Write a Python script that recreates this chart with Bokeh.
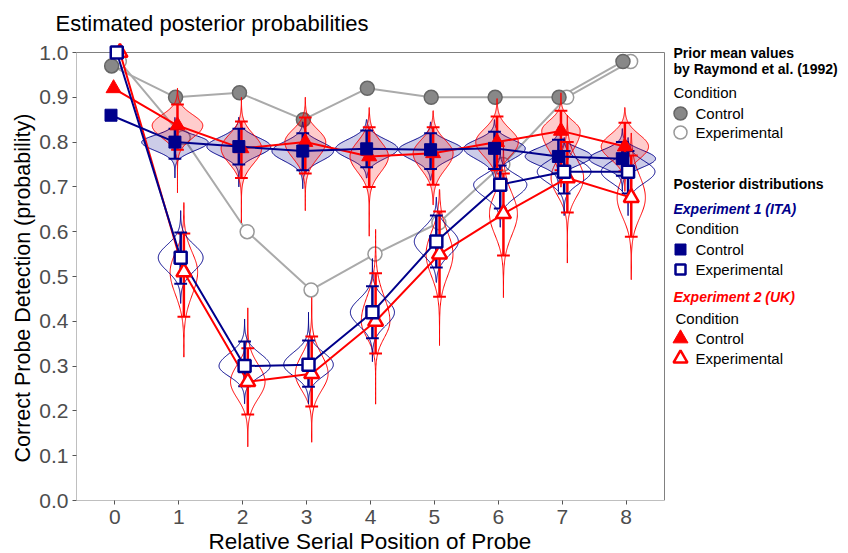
import numpy as np
from bokeh.plotting import figure
from bokeh.models import Range1d, FixedTicker, CustomJSTickFormatter, Title
from bokeh.embed import file_html
from bokeh.resources import INLINE
from bokeh.core.properties import value

# ---------------- data ----------------
positions = [0, 1, 2, 3, 4, 5, 6, 7, 8]
x_tick_labels = ["0", "1", "2", "3", "4", "5", "6", "7", "8"]
y_ticks = [0.0, 0.1, 0.2, 0.3, 0.4, 0.5, 0.6, 0.7, 0.8, 0.9, 1.0]

# Prior mean values by Raymond et al. (1992)
raymond_control = [0.97, 0.90, 0.91, 0.85, 0.92, 0.90, 0.90, 0.90, 0.98]
raymond_experimental = [0.98, 0.81, 0.60, 0.47, 0.55, 0.62, 0.75, 0.90, 0.98]

# Experiment 1 (ITA) posterior summaries
ita_ctrl_mean = [0.86, 0.80, 0.79, 0.78, 0.785, 0.783, 0.786, 0.768, 0.763]
ita_ctrl_lo = [None, 0.763, 0.75, 0.737, 0.744, 0.74, 0.74, 0.73, 0.725]
ita_ctrl_hi = [None, 0.83, 0.83, 0.82, 0.826, 0.82, 0.823, 0.805, 0.80]
ita_ctrl_min = [None, 0.72, 0.70, 0.696, 0.72, 0.715, 0.71, 0.69, 0.69]
ita_ctrl_max = [None, 0.855, 0.855, 0.845, 0.85, 0.845, 0.85, 0.835, 0.83]

ita_exp_mean = [1.00, 0.542, 0.30, 0.303, 0.42, 0.578, 0.705, 0.734, 0.734]
ita_exp_lo = [None, 0.484, 0.255, 0.254, 0.362, 0.52, 0.652, 0.685, 0.685]
ita_exp_hi = [None, 0.598, 0.355, 0.357, 0.478, 0.636, 0.748, 0.78, 0.78]
ita_exp_min = [None, 0.44, 0.216, 0.216, 0.31, 0.487, 0.61, 0.636, 0.636]
ita_exp_max = [None, 0.647, 0.405, 0.42, 0.54, 0.677, 0.78, 0.81, 0.81]

# Experiment 2 (UK) posterior summaries
uk_ctrl_mean = [0.92, 0.837, 0.786, 0.80, 0.768, 0.775, 0.80, 0.825, 0.79]
uk_ctrl_lo = [None, 0.783, 0.72, 0.73, 0.70, 0.705, 0.737, 0.737, 0.735]
uk_ctrl_hi = [None, 0.884, 0.846, 0.855, 0.833, 0.833, 0.857, 0.87, 0.843]
uk_ctrl_min = [None, 0.687, 0.62, 0.647, 0.59, 0.66, 0.69, 0.70, 0.69]
uk_ctrl_max = [None, 0.92, 0.90, 0.90, 0.877, 0.87, 0.897, 0.91, 0.877]

uk_exp_mean = [1.00, 0.51, 0.265, 0.283, 0.40, 0.55, 0.64, 0.72, 0.676]
uk_exp_lo = [None, 0.41, 0.192, 0.21, 0.328, 0.455, 0.547, 0.643, 0.589]
uk_exp_hi = [None, 0.596, 0.34, 0.366, 0.507, 0.645, 0.73, 0.80, 0.77]
uk_exp_min = [None, 0.32, 0.12, 0.13, 0.215, 0.346, 0.453, 0.53, 0.493]
uk_exp_max = [None, 0.665, 0.43, 0.453, 0.605, 0.694, 0.80, 0.86, 0.82]

legend_headers = ["Prior mean values", "by Raymond et al. (1992)", "Posterior distributions"]
legend_groups = ["Experiment 1 (ITA)", "Experiment 2 (UK)"]
legend_conditions = ["Control", "Experimental"]

# ---------------- styling / layout ----------------
NAVY = "#00008B"
RED = "#FF0000"
GREY_LINE = "#AAAAAA"
FONT = "Liberation Sans"

D_RAY_C, D_RAY_E = -0.05, 0.07
D_ITA_C, D_UK_C, D_ITA_E, D_UK_E = -0.06, -0.02, 0.03, 0.08

AREA_K = 0.0102
MAX_HW = 0.52

W, H = 848, 553
# visible panel: page x 76..664, page y 52..500 ; drawing frame extends to the right/top
PANEL_X0, PANEL_X1 = -0.6, 8.6
PANEL_LEFT_PX, PANEL_RIGHT_PX, PANEL_TOP_PX, PANEL_BOTTOM_PX = 76, 664, 52, 500
B_LEFT, B_RIGHT, B_TOP, B_BOTTOM = 76, 0, 40, 53
PXU_X = (PANEL_RIGHT_PX - PANEL_LEFT_PX) / (PANEL_X1 - PANEL_X0)
PXU_Y = (PANEL_BOTTOM_PX - PANEL_TOP_PX) / 1.0
X_END = PANEL_X0 + (W - B_RIGHT - B_LEFT) / PXU_X
Y_END = (PANEL_BOTTOM_PX - B_TOP) / PXU_Y


def px2x(px):
    return PANEL_X0 + (px - PANEL_LEFT_PX) / PXU_X


def py2y(py):
    return (PANEL_BOTTOM_PX - py) / PXU_Y


def violin_shapes(dodge, mean, lo, hi, vmin, vmax):
    xs_all, ys_all = [], []
    for i, pos in enumerate(positions):
        if lo[i] is None:
            continue
        xc = pos + dodge
        m = mean[i]
        sdl = max((m - lo[i]) / 1.96, 1e-3)
        sdh = max((hi[i] - m) / 1.96, 1e-3)
        hw = min(MAX_HW, AREA_K / ((sdl + sdh) / 2))
        ys = np.linspace(vmin[i], vmax[i], 140)
        d = np.where(ys < m, np.exp(-0.5 * ((ys - m) / sdl) ** 2),
                     np.exp(-0.5 * ((ys - m) / sdh) ** 2))
        xr = xc + hw * d
        xl = xc - hw * d
        xs_all.append(list(xr) + list(xl[::-1]))
        ys_all.append(list(ys) + list(ys[::-1]))
    return xs_all, ys_all


def errorbars(p, dodge, lo, hi, color):
    xs, y0, y1 = [], [], []
    for i, pos in enumerate(positions):
        if lo[i] is None:
            continue
        xs.append(pos + dodge)
        y0.append(lo[i])
        y1.append(hi[i])
    xs = np.array(xs)
    p.segment(x0=xs, y0=y0, x1=xs, y1=y1, line_color=color, line_width=2.5)
    p.segment(x0=xs - 0.1, y0=y0, x1=xs + 0.1, y1=y0, line_color=color, line_width=2)
    p.segment(x0=xs - 0.1, y0=y1, x1=xs + 0.1, y1=y1, line_color=color, line_width=2)


p = figure(width=W, height=H, x_range=Range1d(PANEL_X0, X_END), y_range=Range1d(0, Y_END),
           output_backend="svg", toolbar_location=None,
           min_border_left=B_LEFT, min_border_right=B_RIGHT,
           min_border_top=B_TOP, min_border_bottom=B_BOTTOM)
p.background_fill_color = "white"
p.border_fill_color = "white"
p.outline_line_color = None
p.grid.visible = False

# titles
p.add_layout(Title(text="Estimated posterior probabilities", text_font=FONT,
                   text_font_size="22px", text_font_style="normal", text_color="black",
                   align="left", offset=-21, standoff=10), "above")
p.add_layout(Title(text="Relative Serial Position of Probe", text_font=FONT,
                   text_font_size="22.5px", text_font_style="normal", text_color="black",
                   align="left", offset=132, standoff=0), "below")
p.add_layout(Title(text="Correct Probe Detection (probability)", text_font=FONT,
                   text_font_size="21.5px", text_font_style="normal", text_color="black",
                   align="left", offset=38, standoff=3), "left")

p.xaxis.ticker = FixedTicker(ticks=positions)
p.xaxis.major_label_overrides = {pos: lab for pos, lab in zip(positions, x_tick_labels)}
p.yaxis.ticker = FixedTicker(ticks=y_ticks)
p.yaxis.formatter = CustomJSTickFormatter(code="return tick.toFixed(1);")

for ax in (p.xaxis[0], p.yaxis[0]):
    ax.axis_line_color = None
    ax.major_tick_line_color = "#555555"
    ax.major_tick_out = 4
    ax.major_tick_in = 0
    ax.minor_tick_line_color = None
    ax.major_label_text_font = FONT
    ax.major_label_text_font_size = "21px"
    ax.major_label_text_color = "#4D4D4D"
p.xaxis.major_label_standoff = 5
p.yaxis.major_label_standoff = 4

# panel border
p.quad(left=[PANEL_X0], right=[PANEL_X1], bottom=[0], top=[1], fill_color=None,
       line_color="#808080", line_width=1)

# ---- prior mean values (grey) ----
xr_c = [x + D_RAY_C for x in positions]
xr_e = [x + D_RAY_E for x in positions]
p.line(xr_e, raymond_experimental, line_color=GREY_LINE, line_width=2)
p.line(xr_c, raymond_control, line_color=GREY_LINE, line_width=2)
p.scatter(xr_e, raymond_experimental, marker="circle", size=14, fill_color="white",
          line_color="#999999", line_width=1.5)
p.scatter(xr_c, raymond_control, marker="circle", size=14, fill_color="#888888",
          line_color="#666666", line_width=1.5)

# ---- violins ----
vx, vy = violin_shapes(D_UK_E, uk_exp_mean, uk_exp_lo, uk_exp_hi, uk_exp_min, uk_exp_max)
p.patches(vx, vy, fill_color=None, line_color=RED, line_width=1)
vx, vy = violin_shapes(D_ITA_E, ita_exp_mean, ita_exp_lo, ita_exp_hi, ita_exp_min, ita_exp_max)
p.patches(vx, vy, fill_color=None, line_color=NAVY, line_width=1)
vx, vy = violin_shapes(D_ITA_C, ita_ctrl_mean, ita_ctrl_lo, ita_ctrl_hi, ita_ctrl_min, ita_ctrl_max)
p.patches(vx, vy, fill_color=NAVY, fill_alpha=0.2, line_color=NAVY, line_width=1)
vx, vy = violin_shapes(D_UK_C, uk_ctrl_mean, uk_ctrl_lo, uk_ctrl_hi, uk_ctrl_min, uk_ctrl_max)
p.patches(vx, vy, fill_color=RED, fill_alpha=0.2, line_color=RED, line_width=1)

# ---- credible intervals ----
errorbars(p, D_UK_E, uk_exp_lo, uk_exp_hi, RED)
errorbars(p, D_ITA_E, ita_exp_lo, ita_exp_hi, NAVY)
errorbars(p, D_UK_C, uk_ctrl_lo, uk_ctrl_hi, RED)
errorbars(p, D_ITA_C, ita_ctrl_lo, ita_ctrl_hi, NAVY)

# ---- connecting lines ----
p.line([x + D_UK_E for x in positions], uk_exp_mean, line_color=RED, line_width=2)
p.line([x + D_UK_C for x in positions], uk_ctrl_mean, line_color=RED, line_width=2)
p.line([x + D_ITA_E for x in positions], ita_exp_mean, line_color=NAVY, line_width=2)
p.line([x + D_ITA_C for x in positions], ita_ctrl_mean, line_color=NAVY, line_width=2)

# ---- points ----
p.scatter([x + D_UK_E for x in positions], uk_exp_mean, marker="triangle", size=15,
          fill_color="white", line_color=RED, line_width=2.5)
p.scatter([x + D_UK_C for x in positions], uk_ctrl_mean, marker="triangle", size=15,
          fill_color=RED, line_color=RED, line_width=1)
p.scatter([x + D_ITA_E for x in positions], ita_exp_mean, marker="square", size=12,
          fill_color="white", line_color=NAVY, line_width=2.5)
p.scatter([x + D_ITA_C for x in positions], ita_ctrl_mean, marker="square", size=12,
          fill_color=NAVY, line_color=NAVY, line_width=1)

# ---------------- legend (right of the panel) ----------------


def lg_text(xpx_list, ypx_list, texts, size="15px", style="normal", color="black"):
    p.text([px2x(v) for v in xpx_list], [py2y(v) for v in ypx_list], text=texts,
           text_font=value(FONT), text_font_size=size, text_font_style=style,
           text_color=color, text_baseline="middle", text_align="left")


lg_text([673, 673, 673], [52, 68, 183], legend_headers, "14px", "bold")
lg_text([673], [208], [legend_groups[0]], "14px", "bold italic", NAVY)
lg_text([673], [296], [legend_groups[1]], "14px", "bold italic", RED)
lg_text([673, 675, 675], [92, 228, 318], ["Condition"] * 3)
lg_text([695] * 6, [113, 132, 249, 269, 338, 358], legend_conditions * 3)

p.scatter([px2x(680)], [py2y(113)], marker="circle", size=13, fill_color="#888888",
          line_color="#666666", line_width=1.5)
p.scatter([px2x(680)], [py2y(132)], marker="circle", size=13, fill_color="white",
          line_color="#999999", line_width=1.5)
p.scatter([px2x(680)], [py2y(249)], marker="square", size=11, fill_color=NAVY, line_color=NAVY)
p.scatter([px2x(680)], [py2y(269)], marker="square", size=10, fill_color="white",
          line_color=NAVY, line_width=2.5)
p.scatter([px2x(680)], [py2y(338)], marker="triangle", size=15, fill_color=RED, line_color=RED)
p.scatter([px2x(680)], [py2y(358)], marker="triangle", size=14, fill_color="white",
          line_color=RED, line_width=2.5)

open("out.html", "w").write(file_html(p, INLINE))
